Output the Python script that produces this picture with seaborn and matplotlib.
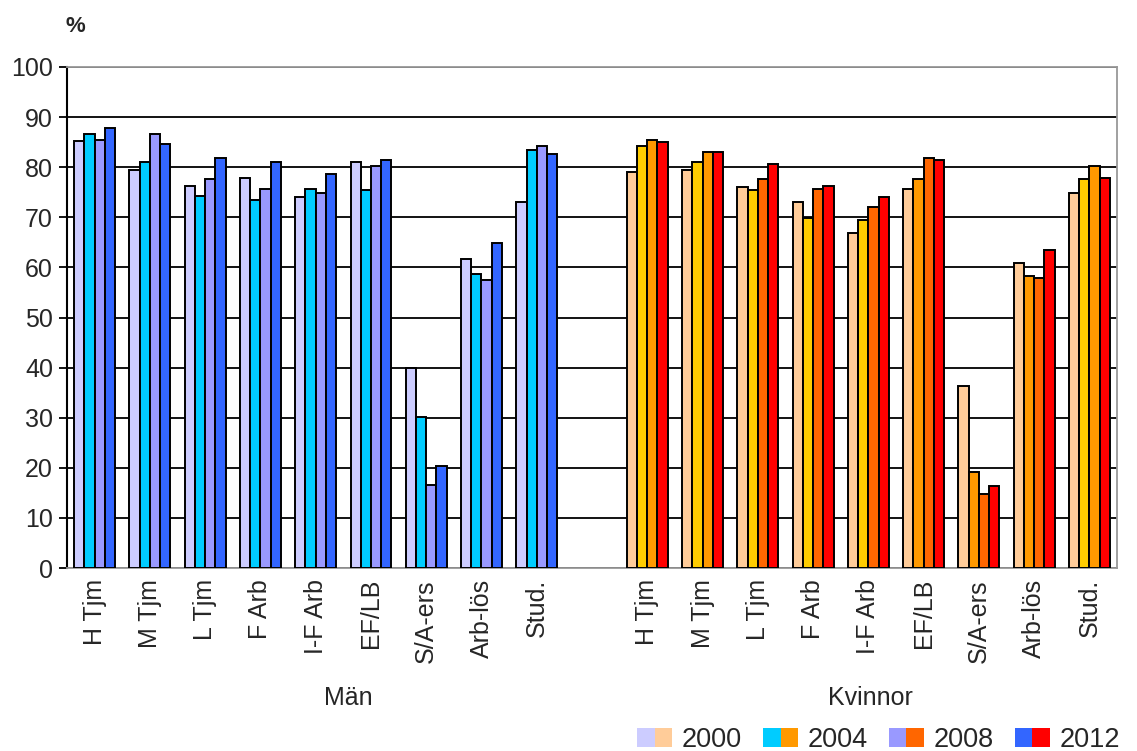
import numpy as np
import pandas as pd
import matplotlib
matplotlib.use("Agg")
import matplotlib.pyplot as plt
import seaborn as sns
from matplotlib.patches import Patch
from matplotlib.legend_handler import HandlerTuple

sns.set_theme(style="white")
plt.rcParams['font.family'] = ['Liberation Sans', 'DejaVu Sans']

categories = ["H Tjm", "M Tjm", "L Tjm", "F Arb", "I-F Arb", "EF/LB", "S/A-ers", "Arb-lös", "Stud."]
years = ["2000", "2004", "2008", "2012"]
groups = ["Män", "Kvinnor"]

man_2000 = [85.2, 79.4, 76.3, 77.9, 74.0, 81.1, 39.9, 61.6, 73.1]
man_2004 = [86.7, 81.1, 74.3, 73.4, 75.6, 75.4, 30.2, 58.7, 83.5]
man_2008 = [85.5, 86.7, 77.6, 75.6, 74.8, 80.3, 16.6, 57.5, 84.3]
man_2012 = [87.9, 84.7, 81.9, 81.1, 78.7, 81.5, 20.3, 64.8, 82.7]

kv_2000 = [79.1, 79.4, 76.0, 73.1, 66.8, 75.6, 36.3, 60.8, 74.8]
kv_2004 = [84.3, 81.1, 75.4, 69.8, 69.4, 77.6, 19.1, 58.3, 77.6]
kv_2008 = [85.5, 83.1, 77.6, 75.6, 72.0, 81.9, 14.8, 57.8, 80.3]
kv_2012 = [85.0, 83.1, 80.6, 76.3, 74.0, 81.5, 16.3, 63.5, 77.9]

# styling: colours
men_colors = ["#CCCCFF", "#00CCFF", "#9999FF", "#3366FF"]
PEACH, YEL, ORG, DORG, RED = "#FFCC99", "#FFCC00", "#FF9900", "#FF6600", "#FF0000"
women_colors = [
    [PEACH, YEL, ORG, RED],
    [PEACH, YEL, ORG, RED],
    [PEACH, YEL, DORG, RED],
    [PEACH, YEL, DORG, RED],
    [PEACH, YEL, DORG, RED],
    [PEACH, ORG, DORG, RED],
    [PEACH, ORG, DORG, RED],
    [PEACH, ORG, DORG, RED],
    [PEACH, YEL, ORG, RED],
]
legend_women = [PEACH, ORG, DORG, RED]

men_vals = [man_2000, man_2004, man_2008, man_2012]
kv_vals = [kv_2000, kv_2004, kv_2008, kv_2012]

rows = []
for yi, y in enumerate(years):
    for ci, c in enumerate(categories):
        rows.append({"slot": f"M|{c}", "year": y, "value": men_vals[yi][ci]})
        rows.append({"slot": f"K|{c}", "year": y, "value": kv_vals[yi][ci]})
df = pd.DataFrame(rows)
order = [f"M|{c}" for c in categories] + ["gap"] + [f"K|{c}" for c in categories]

fig = plt.figure(figsize=(11.37, 7.51), dpi=100)
ax = fig.add_axes([67/1137, 1-568/751, (1117-67)/1137, (568-67)/751])

sns.barplot(data=df, x="slot", y="value", hue="year", order=order, hue_order=years,
            width=0.74, gap=0, ax=ax, legend=False, edgecolor="black", linewidth=1.4,
            saturation=1, zorder=3)

for hi, cont in enumerate(ax.containers):
    for bar in cont:
        slot = int(round(bar.get_x() + bar.get_width() / 2))
        if slot < 9:
            col = men_colors[hi]
        else:
            col = women_colors[slot - 10][hi]
        bar.set_facecolor(col)
        bar.set_edgecolor("black")

ax.set_ylim(0, 100)
ax.set_xlim(-0.5, len(order) - 0.5)
ax.set_yticks(np.arange(0, 101, 10))
ax.set_yticklabels([str(v) for v in range(0, 101, 10)], fontsize=18)
ax.yaxis.grid(True, color="black", linewidth=1.3, zorder=0)
ax.set_axisbelow(True)
ax.set_xticks(range(len(order)))
ax.set_xticklabels(categories + [""] + categories, rotation=90, fontsize=18, va="top")
ax.tick_params(axis="x", length=0, pad=8)
ax.tick_params(axis="y", length=6, width=1.3, color="black", left=True, pad=4)
ax.set_xlabel("")
ax.set_ylabel("")
for s in ["top", "right", "bottom"]:
    ax.spines[s].set_color("#999999")
    ax.spines[s].set_linewidth(1.3)
ax.spines["left"].set_color("black")
ax.spines["left"].set_linewidth(1.5)

fig.text(75/1137, 1-27/751, "%", fontsize=16, fontweight="bold", ha="center", va="center")
fig.text(348/1137, 1-698/751, groups[0], fontsize=18, ha="center", va="center")
fig.text(870/1137, 1-698/751, groups[1], fontsize=18, ha="center", va="center")

handles = []
for i in range(4):
    handles.append((Patch(facecolor=men_colors[i], edgecolor="none"),
                    Patch(facecolor=legend_women[i], edgecolor="none")))
fig.legend(handles, years, handler_map={tuple: HandlerTuple(ndivide=None, pad=0)},
           loc="center right", bbox_to_anchor=(1120/1137, 1-740/751), ncol=4, frameon=False,
           fontsize=19.5, handlelength=1.3, handleheight=0.7, handletextpad=0.35,
           columnspacing=0.78, borderpad=0, borderaxespad=0)

fig.savefig("out.png", dpi=100)
